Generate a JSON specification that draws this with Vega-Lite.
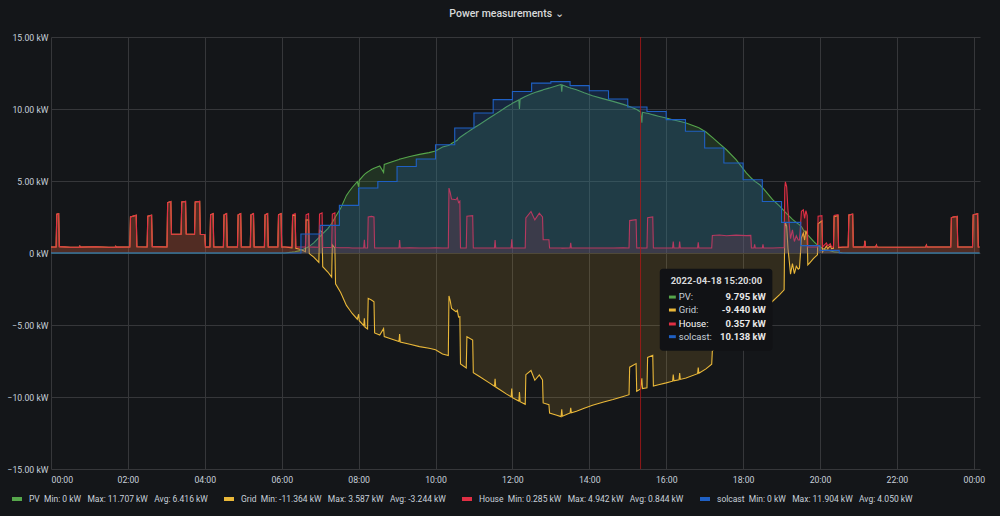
{
  "$schema": "https://vega.github.io/schema/vega-lite/v6.json",
  "width": 929,
  "height": 432,
  "autosize": {"type": "none"},
  "padding": {"left": 51, "top": 37, "right": 20, "bottom": 47},
  "background": "#141619",
  "title": {"text": "Power measurements ⌄", "font": "Roboto", "fontSize": 10.5, "fontWeight": 500, "color": "#d8d9da", "anchor": "middle", "offset": 14, "dx": -9},
  "datasets": {
    "power": [
      {"t": "2022-04-18T00:00", "PV": 0, "Grid": 0.42, "House": 0.42},
      {"t": "2022-04-18T00:08", "PV": 0, "Grid": 0.42, "House": 0.42},
      {"t": "2022-04-18T00:09", "PV": 0, "Grid": 2.70, "House": 2.70},
      {"t": "2022-04-18T00:12", "PV": 0, "Grid": 2.73, "House": 2.73},
      {"t": "2022-04-18T00:13", "PV": 0, "Grid": 0.44, "House": 0.44},
      {"t": "2022-04-18T00:30", "PV": 0, "Grid": 0.40, "House": 0.40},
      {"t": "2022-04-18T00:44", "PV": 0, "Grid": 0.40, "House": 0.40},
      {"t": "2022-04-18T00:45", "PV": 0, "Grid": 0.48, "House": 0.48},
      {"t": "2022-04-18T00:46", "PV": 0, "Grid": 0.41, "House": 0.41},
      {"t": "2022-04-18T01:10", "PV": 0, "Grid": 0.43, "House": 0.43},
      {"t": "2022-04-18T01:30", "PV": 0, "Grid": 0.40, "House": 0.40},
      {"t": "2022-04-18T01:40", "PV": 0, "Grid": 0.40, "House": 0.40},
      {"t": "2022-04-18T01:41", "PV": 0, "Grid": 0.47, "House": 0.47},
      {"t": "2022-04-18T01:42", "PV": 0, "Grid": 0.41, "House": 0.41},
      {"t": "2022-04-18T02:03", "PV": 0, "Grid": 0.42, "House": 0.42},
      {"t": "2022-04-18T02:04", "PV": 0, "Grid": 2.50, "House": 2.50},
      {"t": "2022-04-18T02:13", "PV": 0, "Grid": 2.62, "House": 2.62},
      {"t": "2022-04-18T02:14", "PV": 0, "Grid": 0.43, "House": 0.43},
      {"t": "2022-04-18T02:30", "PV": 0, "Grid": 0.42, "House": 0.42},
      {"t": "2022-04-18T02:31", "PV": 0, "Grid": 2.55, "House": 2.55},
      {"t": "2022-04-18T02:37", "PV": 0, "Grid": 2.62, "House": 2.62},
      {"t": "2022-04-18T02:38", "PV": 0, "Grid": 0.44, "House": 0.44},
      {"t": "2022-04-18T03:01", "PV": 0, "Grid": 0.42, "House": 0.42},
      {"t": "2022-04-18T03:02", "PV": 0, "Grid": 3.50, "House": 3.50},
      {"t": "2022-04-18T03:07", "PV": 0, "Grid": 3.58, "House": 3.58},
      {"t": "2022-04-18T03:08", "PV": 0, "Grid": 1.30, "House": 1.30},
      {"t": "2022-04-18T03:23", "PV": 0, "Grid": 1.30, "House": 1.30},
      {"t": "2022-04-18T03:24", "PV": 0, "Grid": 3.55, "House": 3.55},
      {"t": "2022-04-18T03:30", "PV": 0, "Grid": 3.58, "House": 3.58},
      {"t": "2022-04-18T03:31", "PV": 0, "Grid": 1.32, "House": 1.32},
      {"t": "2022-04-18T03:44", "PV": 0, "Grid": 1.30, "House": 1.30},
      {"t": "2022-04-18T03:45", "PV": 0, "Grid": 3.55, "House": 3.55},
      {"t": "2022-04-18T03:52", "PV": 0, "Grid": 3.58, "House": 3.58},
      {"t": "2022-04-18T03:53", "PV": 0, "Grid": 1.30, "House": 1.30},
      {"t": "2022-04-18T04:00", "PV": 0, "Grid": 1.28, "House": 1.28},
      {"t": "2022-04-18T04:01", "PV": 0, "Grid": 0.42, "House": 0.42},
      {"t": "2022-04-18T04:08", "PV": 0, "Grid": 0.42, "House": 0.42},
      {"t": "2022-04-18T04:09", "PV": 0, "Grid": 2.65, "House": 2.65},
      {"t": "2022-04-18T04:13", "PV": 0, "Grid": 2.73, "House": 2.73},
      {"t": "2022-04-18T04:14", "PV": 0, "Grid": 0.42, "House": 0.42},
      {"t": "2022-04-18T04:29", "PV": 0, "Grid": 0.42, "House": 0.42},
      {"t": "2022-04-18T04:30", "PV": 0, "Grid": 2.65, "House": 2.65},
      {"t": "2022-04-18T04:34", "PV": 0, "Grid": 2.73, "House": 2.73},
      {"t": "2022-04-18T04:35", "PV": 0, "Grid": 0.42, "House": 0.42},
      {"t": "2022-04-18T04:51", "PV": 0, "Grid": 0.42, "House": 0.42},
      {"t": "2022-04-18T04:52", "PV": 0, "Grid": 2.65, "House": 2.65},
      {"t": "2022-04-18T04:56", "PV": 0, "Grid": 2.73, "House": 2.73},
      {"t": "2022-04-18T04:57", "PV": 0, "Grid": 0.42, "House": 0.42},
      {"t": "2022-04-18T05:11", "PV": 0, "Grid": 0.42, "House": 0.42},
      {"t": "2022-04-18T05:12", "PV": 0, "Grid": 2.65, "House": 2.65},
      {"t": "2022-04-18T05:16", "PV": 0, "Grid": 2.73, "House": 2.73},
      {"t": "2022-04-18T05:17", "PV": 0, "Grid": 0.42, "House": 0.42},
      {"t": "2022-04-18T05:33", "PV": 0, "Grid": 0.42, "House": 0.42},
      {"t": "2022-04-18T05:34", "PV": 0, "Grid": 2.65, "House": 2.65},
      {"t": "2022-04-18T05:38", "PV": 0, "Grid": 2.73, "House": 2.73},
      {"t": "2022-04-18T05:39", "PV": 0, "Grid": 0.42, "House": 0.42},
      {"t": "2022-04-18T05:54", "PV": 0, "Grid": 0.42, "House": 0.42},
      {"t": "2022-04-18T05:55", "PV": 0, "Grid": 2.65, "House": 2.65},
      {"t": "2022-04-18T05:59", "PV": 0, "Grid": 2.73, "House": 2.73},
      {"t": "2022-04-18T06:00", "PV": 0, "Grid": 0.42, "House": 0.42},
      {"t": "2022-04-18T06:05", "PV": 0, "Grid": 0.42, "House": 0.42},
      {"t": "2022-04-18T06:16", "PV": 0.06, "Grid": 0.36, "House": 0.42},
      {"t": "2022-04-18T06:17", "PV": 0.07, "Grid": 2.58, "House": 2.65},
      {"t": "2022-04-18T06:21", "PV": 0.09, "Grid": 2.64, "House": 2.73},
      {"t": "2022-04-18T06:22", "PV": 0.10, "Grid": 0.32, "House": 0.42},
      {"t": "2022-04-18T06:30", "PV": 0.18, "Grid": 0.24, "House": 0.42},
      {"t": "2022-04-18T06:37", "PV": 0.33, "Grid": 0.09, "House": 0.42},
      {"t": "2022-04-18T06:38", "PV": 0.35, "Grid": 2.30, "House": 2.65},
      {"t": "2022-04-18T06:42", "PV": 0.44, "Grid": 2.29, "House": 2.73},
      {"t": "2022-04-18T06:43", "PV": 0.46, "Grid": -0.04, "House": 0.42},
      {"t": "2022-04-18T06:50", "PV": 0.70, "Grid": -0.29, "House": 0.41},
      {"t": "2022-04-18T06:58", "PV": 1.06, "Grid": -0.66, "House": 0.40},
      {"t": "2022-04-18T06:59", "PV": 1.11, "Grid": 1.59, "House": 2.70},
      {"t": "2022-04-18T07:03", "PV": 1.30, "Grid": 1.48, "House": 2.78},
      {"t": "2022-04-18T07:04", "PV": 1.35, "Grid": -0.95, "House": 0.40},
      {"t": "2022-04-18T07:12", "PV": 1.70, "Grid": -1.32, "House": 0.38},
      {"t": "2022-04-18T07:18", "PV": 2.05, "Grid": -1.67, "House": 0.38},
      {"t": "2022-04-18T07:19", "PV": 2.13, "Grid": 0.57, "House": 2.70},
      {"t": "2022-04-18T07:23", "PV": 2.44, "Grid": 0.34, "House": 2.78},
      {"t": "2022-04-18T07:24", "PV": 2.52, "Grid": -2.14, "House": 0.38},
      {"t": "2022-04-18T07:32", "PV": 3.10, "Grid": -2.74, "House": 0.36},
      {"t": "2022-04-18T07:41", "PV": 4.00, "Grid": -3.64, "House": 0.36},
      {"t": "2022-04-18T07:45", "PV": 4.25, "Grid": -3.89, "House": 0.36},
      {"t": "2022-04-18T07:50", "PV": 4.55, "Grid": -4.20, "House": 0.35},
      {"t": "2022-04-18T07:58", "PV": 4.95, "Grid": -4.60, "House": 0.35},
      {"t": "2022-04-18T08:00", "PV": 4.60, "Grid": -4.25, "House": 0.35},
      {"t": "2022-04-18T08:01", "PV": 5.05, "Grid": -4.70, "House": 0.35},
      {"t": "2022-04-18T08:08", "PV": 5.40, "Grid": -5.05, "House": 0.35},
      {"t": "2022-04-18T08:09", "PV": 5.45, "Grid": -4.53, "House": 0.92},
      {"t": "2022-04-18T08:10", "PV": 5.50, "Grid": -5.15, "House": 0.35},
      {"t": "2022-04-18T08:14", "PV": 5.62, "Grid": -5.27, "House": 0.35},
      {"t": "2022-04-18T08:15", "PV": 5.65, "Grid": -3.15, "House": 2.50},
      {"t": "2022-04-18T08:20", "PV": 5.80, "Grid": -3.26, "House": 2.54},
      {"t": "2022-04-18T08:24", "PV": 5.88, "Grid": -3.38, "House": 2.50},
      {"t": "2022-04-18T08:25", "PV": 5.90, "Grid": -5.55, "House": 0.35},
      {"t": "2022-04-18T08:33", "PV": 6.05, "Grid": -5.70, "House": 0.35},
      {"t": "2022-04-18T08:39", "PV": 5.60, "Grid": -5.25, "House": 0.35},
      {"t": "2022-04-18T08:40", "PV": 6.15, "Grid": -5.80, "House": 0.35},
      {"t": "2022-04-18T08:50", "PV": 6.30, "Grid": -5.95, "House": 0.35},
      {"t": "2022-04-18T09:03", "PV": 6.50, "Grid": -6.15, "House": 0.35},
      {"t": "2022-04-18T09:04", "PV": 6.52, "Grid": -5.62, "House": 0.90},
      {"t": "2022-04-18T09:05", "PV": 6.53, "Grid": -6.18, "House": 0.35},
      {"t": "2022-04-18T09:20", "PV": 6.70, "Grid": -6.34, "House": 0.36},
      {"t": "2022-04-18T09:35", "PV": 6.85, "Grid": -6.50, "House": 0.35},
      {"t": "2022-04-18T09:50", "PV": 6.97, "Grid": -6.62, "House": 0.35},
      {"t": "2022-04-18T10:00", "PV": 7.08, "Grid": -6.72, "House": 0.36},
      {"t": "2022-04-18T10:11", "PV": 7.36, "Grid": -7.01, "House": 0.35},
      {"t": "2022-04-18T10:20", "PV": 7.47, "Grid": -7.12, "House": 0.35},
      {"t": "2022-04-18T10:21", "PV": 7.49, "Grid": -2.98, "House": 4.51},
      {"t": "2022-04-18T10:23", "PV": 7.53, "Grid": -3.33, "House": 4.20},
      {"t": "2022-04-18T10:25", "PV": 7.60, "Grid": -3.85, "House": 3.75},
      {"t": "2022-04-18T10:32", "PV": 7.78, "Grid": -4.08, "House": 3.70},
      {"t": "2022-04-18T10:34", "PV": 7.83, "Grid": -3.98, "House": 3.85},
      {"t": "2022-04-18T10:36", "PV": 7.95, "Grid": -4.45, "House": 3.50},
      {"t": "2022-04-18T10:38", "PV": 8.02, "Grid": -4.42, "House": 3.60},
      {"t": "2022-04-18T10:39", "PV": 8.05, "Grid": -7.70, "House": 0.35},
      {"t": "2022-04-18T10:48", "PV": 8.33, "Grid": -7.98, "House": 0.35},
      {"t": "2022-04-18T10:49", "PV": 8.36, "Grid": -5.81, "House": 2.55},
      {"t": "2022-04-18T10:58", "PV": 8.63, "Grid": -6.04, "House": 2.59},
      {"t": "2022-04-18T10:59", "PV": 8.66, "Grid": -8.31, "House": 0.35},
      {"t": "2022-04-18T11:08", "PV": 8.91, "Grid": -8.56, "House": 0.35},
      {"t": "2022-04-18T11:24", "PV": 9.37, "Grid": -9.02, "House": 0.35},
      {"t": "2022-04-18T11:32", "PV": 9.60, "Grid": -9.25, "House": 0.35},
      {"t": "2022-04-18T11:33", "PV": 9.63, "Grid": -8.73, "House": 0.90},
      {"t": "2022-04-18T11:34", "PV": 9.66, "Grid": -9.31, "House": 0.35},
      {"t": "2022-04-18T11:40", "PV": 9.83, "Grid": -9.48, "House": 0.35},
      {"t": "2022-04-18T11:51", "PV": 10.15, "Grid": -9.80, "House": 0.35},
      {"t": "2022-04-18T11:58", "PV": 10.34, "Grid": -9.99, "House": 0.35},
      {"t": "2022-04-18T11:59", "PV": 10.37, "Grid": -9.42, "House": 0.95},
      {"t": "2022-04-18T12:00", "PV": 10.40, "Grid": -10.05, "House": 0.35},
      {"t": "2022-04-18T12:10", "PV": 10.63, "Grid": -10.28, "House": 0.35},
      {"t": "2022-04-18T12:11", "PV": 10.00, "Grid": -9.65, "House": 0.35},
      {"t": "2022-04-18T12:12", "PV": 10.68, "Grid": -10.33, "House": 0.35},
      {"t": "2022-04-18T12:20", "PV": 10.86, "Grid": -10.51, "House": 0.35},
      {"t": "2022-04-18T12:21", "PV": 10.88, "Grid": -8.45, "House": 2.43},
      {"t": "2022-04-18T12:29", "PV": 11.04, "Grid": -8.16, "House": 2.88},
      {"t": "2022-04-18T12:35", "PV": 11.14, "Grid": -8.84, "House": 2.30},
      {"t": "2022-04-18T12:42", "PV": 11.24, "Grid": -8.47, "House": 2.77},
      {"t": "2022-04-18T12:47", "PV": 11.31, "Grid": -8.81, "House": 2.50},
      {"t": "2022-04-18T12:48", "PV": 11.33, "Grid": -10.41, "House": 0.92},
      {"t": "2022-04-18T12:57", "PV": 11.45, "Grid": -10.53, "House": 0.92},
      {"t": "2022-04-18T12:58", "PV": 11.46, "Grid": -11.11, "House": 0.35},
      {"t": "2022-04-18T13:08", "PV": 11.60, "Grid": -11.25, "House": 0.35},
      {"t": "2022-04-18T13:16", "PV": 11.707, "Grid": -11.364, "House": 0.343},
      {"t": "2022-04-18T13:17", "PV": 11.20, "Grid": -10.86, "House": 0.34},
      {"t": "2022-04-18T13:18", "PV": 11.67, "Grid": -11.33, "House": 0.34},
      {"t": "2022-04-18T13:28", "PV": 11.50, "Grid": -11.15, "House": 0.35},
      {"t": "2022-04-18T13:30", "PV": 11.47, "Grid": -11.12, "House": 0.35},
      {"t": "2022-04-18T13:31", "PV": 11.45, "Grid": -10.75, "House": 0.70},
      {"t": "2022-04-18T13:32", "PV": 11.44, "Grid": -11.09, "House": 0.35},
      {"t": "2022-04-18T13:40", "PV": 11.34, "Grid": -10.99, "House": 0.35},
      {"t": "2022-04-18T13:52", "PV": 11.13, "Grid": -10.78, "House": 0.35},
      {"t": "2022-04-18T14:05", "PV": 10.92, "Grid": -10.57, "House": 0.35},
      {"t": "2022-04-18T14:21", "PV": 10.72, "Grid": -10.37, "House": 0.35},
      {"t": "2022-04-18T14:37", "PV": 10.53, "Grid": -10.18, "House": 0.35},
      {"t": "2022-04-18T14:53", "PV": 10.32, "Grid": -9.96, "House": 0.36},
      {"t": "2022-04-18T15:02", "PV": 10.19, "Grid": -9.84, "House": 0.35},
      {"t": "2022-04-18T15:03", "PV": 10.18, "Grid": -7.93, "House": 2.25},
      {"t": "2022-04-18T15:13", "PV": 9.99, "Grid": -7.68, "House": 2.31},
      {"t": "2022-04-18T15:14", "PV": 9.96, "Grid": -9.61, "House": 0.35},
      {"t": "2022-04-18T15:20", "PV": 9.795, "Grid": -9.44, "House": 0.357},
      {"t": "2022-04-18T15:22", "PV": 9.05, "Grid": -8.70, "House": 0.35},
      {"t": "2022-04-18T15:23", "PV": 9.77, "Grid": -9.42, "House": 0.35},
      {"t": "2022-04-18T15:30", "PV": 9.71, "Grid": -9.36, "House": 0.35},
      {"t": "2022-04-18T15:31", "PV": 9.70, "Grid": -7.25, "House": 2.45},
      {"t": "2022-04-18T15:39", "PV": 9.60, "Grid": -7.10, "House": 2.50},
      {"t": "2022-04-18T15:40", "PV": 9.59, "Grid": -9.24, "House": 0.35},
      {"t": "2022-04-18T15:48", "PV": 9.50, "Grid": -9.15, "House": 0.35},
      {"t": "2022-04-18T16:00", "PV": 9.37, "Grid": -9.02, "House": 0.35},
      {"t": "2022-04-18T16:10", "PV": 9.25, "Grid": -8.90, "House": 0.35},
      {"t": "2022-04-18T16:11", "PV": 9.24, "Grid": -8.44, "House": 0.80},
      {"t": "2022-04-18T16:12", "PV": 9.23, "Grid": -8.88, "House": 0.35},
      {"t": "2022-04-18T16:20", "PV": 9.15, "Grid": -8.80, "House": 0.35},
      {"t": "2022-04-18T16:21", "PV": 9.14, "Grid": -8.34, "House": 0.80},
      {"t": "2022-04-18T16:22", "PV": 9.13, "Grid": -8.78, "House": 0.35},
      {"t": "2022-04-18T16:31", "PV": 9.03, "Grid": -8.68, "House": 0.35},
      {"t": "2022-04-18T16:49", "PV": 8.73, "Grid": -8.38, "House": 0.35},
      {"t": "2022-04-18T16:50", "PV": 8.71, "Grid": -7.96, "House": 0.75},
      {"t": "2022-04-18T16:51", "PV": 8.70, "Grid": -8.35, "House": 0.35},
      {"t": "2022-04-18T17:02", "PV": 8.40, "Grid": -8.05, "House": 0.35},
      {"t": "2022-04-18T17:11", "PV": 8.07, "Grid": -7.72, "House": 0.35},
      {"t": "2022-04-18T17:12", "PV": 8.03, "Grid": -6.81, "House": 1.22},
      {"t": "2022-04-18T17:23", "PV": 7.60, "Grid": -6.35, "House": 1.25},
      {"t": "2022-04-18T17:34", "PV": 7.17, "Grid": -5.97, "House": 1.20},
      {"t": "2022-04-18T17:49", "PV": 6.48, "Grid": -5.24, "House": 1.24},
      {"t": "2022-04-18T18:05", "PV": 5.56, "Grid": -4.35, "House": 1.21},
      {"t": "2022-04-18T18:12", "PV": 5.24, "Grid": -4.02, "House": 1.22},
      {"t": "2022-04-18T18:13", "PV": 5.19, "Grid": -4.84, "House": 0.35},
      {"t": "2022-04-18T18:17", "PV": 5.03, "Grid": -4.68, "House": 0.35},
      {"t": "2022-04-18T18:18", "PV": 5.00, "Grid": -4.40, "House": 0.60},
      {"t": "2022-04-18T18:19", "PV": 4.96, "Grid": -4.61, "House": 0.35},
      {"t": "2022-04-18T18:26", "PV": 4.74, "Grid": -4.39, "House": 0.35},
      {"t": "2022-04-18T18:30", "PV": 4.54, "Grid": -4.19, "House": 0.35},
      {"t": "2022-04-18T18:31", "PV": 4.50, "Grid": -3.90, "House": 0.60},
      {"t": "2022-04-18T18:32", "PV": 4.45, "Grid": -4.10, "House": 0.35},
      {"t": "2022-04-18T18:36", "PV": 4.25, "Grid": -3.90, "House": 0.35},
      {"t": "2022-04-18T18:46", "PV": 3.70, "Grid": -3.35, "House": 0.35},
      {"t": "2022-04-18T18:57", "PV": 3.25, "Grid": -2.89, "House": 0.36},
      {"t": "2022-04-18T19:04", "PV": 2.92, "Grid": -2.56, "House": 0.36},
      {"t": "2022-04-18T19:05", "PV": 2.87, "Grid": 1.63, "House": 4.50},
      {"t": "2022-04-18T19:06", "PV": 2.83, "Grid": 2.11, "House": 4.942},
      {"t": "2022-04-18T19:08", "PV": 2.74, "Grid": 1.86, "House": 4.60},
      {"t": "2022-04-18T19:10", "PV": 2.65, "Grid": 0.35, "House": 3.00},
      {"t": "2022-04-18T19:12", "PV": 2.56, "Grid": -0.56, "House": 2.00},
      {"t": "2022-04-18T19:14", "PV": 2.47, "Grid": -1.47, "House": 1.00},
      {"t": "2022-04-18T19:17", "PV": 2.34, "Grid": -0.74, "House": 1.60},
      {"t": "2022-04-18T19:20", "PV": 2.23, "Grid": -1.43, "House": 0.80},
      {"t": "2022-04-18T19:23", "PV": 2.12, "Grid": -0.92, "House": 1.20},
      {"t": "2022-04-18T19:26", "PV": 2.02, "Grid": -1.12, "House": 0.90},
      {"t": "2022-04-18T19:28", "PV": 1.95, "Grid": -1.05, "House": 0.90},
      {"t": "2022-04-18T19:31", "PV": 1.84, "Grid": 1.06, "House": 2.90},
      {"t": "2022-04-18T19:34", "PV": 1.61, "Grid": 1.39, "House": 3.00},
      {"t": "2022-04-18T19:36", "PV": 1.50, "Grid": 0.90, "House": 2.40},
      {"t": "2022-04-18T19:38", "PV": 1.40, "Grid": 1.55, "House": 2.95},
      {"t": "2022-04-18T19:40", "PV": 1.30, "Grid": 1.30, "House": 2.60},
      {"t": "2022-04-18T19:41", "PV": 1.25, "Grid": -0.83, "House": 0.42},
      {"t": "2022-04-18T19:44", "PV": 1.10, "Grid": -0.68, "House": 0.42},
      {"t": "2022-04-18T19:50", "PV": 0.80, "Grid": -0.38, "House": 0.42},
      {"t": "2022-04-18T19:56", "PV": 0.55, "Grid": -0.13, "House": 0.42},
      {"t": "2022-04-18T19:57", "PV": 0.52, "Grid": 2.03, "House": 2.55},
      {"t": "2022-04-18T20:03", "PV": 0.35, "Grid": 2.24, "House": 2.59},
      {"t": "2022-04-18T20:04", "PV": 0.33, "Grid": 0.09, "House": 0.42},
      {"t": "2022-04-18T20:10", "PV": 0.22, "Grid": 0.48, "House": 0.70},
      {"t": "2022-04-18T20:12", "PV": 0.20, "Grid": 0.30, "House": 0.50},
      {"t": "2022-04-18T20:16", "PV": 0.15, "Grid": 0.50, "House": 0.65},
      {"t": "2022-04-18T20:18", "PV": 0.12, "Grid": 0.30, "House": 0.42},
      {"t": "2022-04-18T20:21", "PV": 0.09, "Grid": 0.33, "House": 0.42},
      {"t": "2022-04-18T20:22", "PV": 0.08, "Grid": 2.52, "House": 2.60},
      {"t": "2022-04-18T20:28", "PV": 0.05, "Grid": 2.61, "House": 2.66},
      {"t": "2022-04-18T20:29", "PV": 0.05, "Grid": 0.37, "House": 0.42},
      {"t": "2022-04-18T20:35", "PV": 0.02, "Grid": 0.40, "House": 0.42},
      {"t": "2022-04-18T20:44", "PV": 0, "Grid": 0.42, "House": 0.42},
      {"t": "2022-04-18T20:45", "PV": 0, "Grid": 2.65, "House": 2.65},
      {"t": "2022-04-18T20:51", "PV": 0, "Grid": 2.70, "House": 2.70},
      {"t": "2022-04-18T20:52", "PV": 0, "Grid": 0.42, "House": 0.42},
      {"t": "2022-04-18T21:09", "PV": 0, "Grid": 0.42, "House": 0.42},
      {"t": "2022-04-18T21:10", "PV": 0, "Grid": 0.85, "House": 0.85},
      {"t": "2022-04-18T21:11", "PV": 0, "Grid": 0.42, "House": 0.42},
      {"t": "2022-04-18T21:27", "PV": 0, "Grid": 0.42, "House": 0.42},
      {"t": "2022-04-18T21:28", "PV": 0, "Grid": 0.55, "House": 0.55},
      {"t": "2022-04-18T21:29", "PV": 0, "Grid": 0.42, "House": 0.42},
      {"t": "2022-04-18T22:00", "PV": 0, "Grid": 0.40, "House": 0.40},
      {"t": "2022-04-18T22:45", "PV": 0, "Grid": 0.42, "House": 0.42},
      {"t": "2022-04-18T22:46", "PV": 0, "Grid": 0.55, "House": 0.55},
      {"t": "2022-04-18T22:47", "PV": 0, "Grid": 0.42, "House": 0.42},
      {"t": "2022-04-18T23:24", "PV": 0, "Grid": 0.42, "House": 0.42},
      {"t": "2022-04-18T23:25", "PV": 0, "Grid": 2.45, "House": 2.45},
      {"t": "2022-04-18T23:28", "PV": 0, "Grid": 2.50, "House": 2.50},
      {"t": "2022-04-18T23:34", "PV": 0, "Grid": 2.54, "House": 2.54},
      {"t": "2022-04-18T23:35", "PV": 0, "Grid": 0.42, "House": 0.42},
      {"t": "2022-04-18T23:58", "PV": 0, "Grid": 0.42, "House": 0.42},
      {"t": "2022-04-18T23:59", "PV": 0, "Grid": 2.65, "House": 2.65},
      {"t": "2022-04-19T00:06", "PV": 0, "Grid": 2.73, "House": 2.73},
      {"t": "2022-04-19T00:07", "PV": 0, "Grid": 0.42, "House": 0.42},
      {"t": "2022-04-19T00:09", "PV": 0, "Grid": 0.42, "House": 0.42}
    ],
    "solcast": [
      {"t": "2022-04-18T00:00", "solcast": 0},
      {"t": "2022-04-18T06:30", "solcast": 1.32},
      {"t": "2022-04-18T07:00", "solcast": 1.92},
      {"t": "2022-04-18T07:30", "solcast": 3.31},
      {"t": "2022-04-18T08:00", "solcast": 4.51},
      {"t": "2022-04-18T08:30", "solcast": 4.97},
      {"t": "2022-04-18T09:00", "solcast": 6.01},
      {"t": "2022-04-18T09:30", "solcast": 6.53},
      {"t": "2022-04-18T10:00", "solcast": 7.52},
      {"t": "2022-04-18T10:30", "solcast": 8.68},
      {"t": "2022-04-18T11:00", "solcast": 9.72},
      {"t": "2022-04-18T11:30", "solcast": 10.65},
      {"t": "2022-04-18T12:00", "solcast": 11.22},
      {"t": "2022-04-18T12:30", "solcast": 11.80},
      {"t": "2022-04-18T13:00", "solcast": 11.904},
      {"t": "2022-04-18T13:30", "solcast": 11.62},
      {"t": "2022-04-18T14:00", "solcast": 11.27},
      {"t": "2022-04-18T14:30", "solcast": 10.69},
      {"t": "2022-04-18T15:00", "solcast": 10.138},
      {"t": "2022-04-18T15:30", "solcast": 9.83},
      {"t": "2022-04-18T16:00", "solcast": 9.26},
      {"t": "2022-04-18T16:30", "solcast": 8.45},
      {"t": "2022-04-18T17:00", "solcast": 7.29},
      {"t": "2022-04-18T17:30", "solcast": 6.25},
      {"t": "2022-04-18T18:00", "solcast": 5.09},
      {"t": "2022-04-18T18:30", "solcast": 3.58},
      {"t": "2022-04-18T19:00", "solcast": 2.13},
      {"t": "2022-04-18T19:30", "solcast": 0.51},
      {"t": "2022-04-18T20:00", "solcast": 0.18},
      {"t": "2022-04-18T20:30", "solcast": 0},
      {"t": "2022-04-19T00:09", "solcast": 0}
    ],
    "cursor": [{"t": "2022-04-18T15:20"}],
    "tipbox": [{"t": "2022-04-18T15:50", "t2": "2022-04-18T18:45:36", "kw": -1.09, "kw2": -6.78}],
    "tiphead": [{"t": "2022-04-18T17:18:18", "kw": -1.96, "txt": "2022-04-18 15:20:00"}],
    "tiprows": [
      {"t": "2022-04-18T16:04:18", "t2": "2022-04-18T16:15", "tl": "2022-04-18T16:19:36", "tv": "2022-04-18T18:35:30", "kw": -3.06, "s": "PV", "name": "PV:", "val": "9.795 kW"},
      {"t": "2022-04-18T16:04:18", "t2": "2022-04-18T16:15", "tl": "2022-04-18T16:19:36", "tv": "2022-04-18T18:35:30", "kw": -3.96, "s": "Grid", "name": "Grid:", "val": "-9.440 kW"},
      {"t": "2022-04-18T16:04:18", "t2": "2022-04-18T16:15", "tl": "2022-04-18T16:19:36", "tv": "2022-04-18T18:35:30", "kw": -4.93, "s": "House", "name": "House:", "val": "0.357 kW"},
      {"t": "2022-04-18T16:04:18", "t2": "2022-04-18T16:15", "tl": "2022-04-18T16:19:36", "tv": "2022-04-18T18:35:30", "kw": -5.81, "s": "solcast", "name": "solcast:", "val": "10.138 kW"}
    ]
  },
  "layer": [
    {
      "data": {"name": "power"},
      "mark": {"type": "area", "color": "#56A64B", "opacity": 0.2},
      "encoding": {
        "x": {
          "field": "t", "type": "temporal", "title": null,
          "scale": {"domain": [{"year": 2022, "month": 4, "date": 18, "hours": 0, "minutes": 0}, {"year": 2022, "month": 4, "date": 19, "hours": 0, "minutes": 9, "seconds": 40}]},
          "axis": {"format": "%H:%M", "values": [
            {"year": 2022, "month": 4, "date": 18, "hours": 0},
            {"year": 2022, "month": 4, "date": 18, "hours": 2},
            {"year": 2022, "month": 4, "date": 18, "hours": 4},
            {"year": 2022, "month": 4, "date": 18, "hours": 6},
            {"year": 2022, "month": 4, "date": 18, "hours": 8},
            {"year": 2022, "month": 4, "date": 18, "hours": 10},
            {"year": 2022, "month": 4, "date": 18, "hours": 12},
            {"year": 2022, "month": 4, "date": 18, "hours": 14},
            {"year": 2022, "month": 4, "date": 18, "hours": 16},
            {"year": 2022, "month": 4, "date": 18, "hours": 18},
            {"year": 2022, "month": 4, "date": 18, "hours": 20},
            {"year": 2022, "month": 4, "date": 18, "hours": 22},
            {"year": 2022, "month": 4, "date": 19, "hours": 0}
          ], "labelPadding": 6, "grid": true, "title": null}
        },
        "y": {"field": "PV", "type": "quantitative", "title": null, "scale": {"domain": [-15, 15], "nice": false},
          "axis": {"values": [-15, -10, -5, 0, 5, 10, 15], "labelExpr": "datum.value == 0 ? '0 kW' : format(datum.value, '.2f') + ' kW'", "labelPadding": 3, "grid": true, "title": null}}
      }
    },
    {
      "data": {"name": "power"},
      "mark": {"type": "line", "strokeWidth": 1.1},
      "encoding": {
        "x": {"field": "t", "type": "temporal"},
        "y": {"field": "PV", "type": "quantitative"},
        "color": {"datum": "PV", "type": "nominal",
          "scale": {"domain": ["PV", "Grid", "House", "solcast"], "range": ["#56A64B", "#EAB839", "#E02F44", "#1F60C4"]},
          "legend": {"orient": "none", "legendX": -41, "legendY": 455, "direction": "horizontal", "title": null, "symbolType": "stroke", "symbolStrokeWidth": 4, "symbolSize": 100, "labelFont": "Roboto", "labelFontSize": 8.5, "labelColor": "#c7d0d9", "labelOffset": 5, "columnPadding": 8, "labelLimit": 0,
            "labelExpr": "datum.label == 'PV' ? 'PV\u00a0 Min: 0 kW\u00a0\u00a0 Max: 11.707 kW\u00a0\u00a0 Avg: 6.416 kW' : datum.label == 'Grid' ? 'Grid\u00a0 Min: -11.364 kW\u00a0\u00a0 Max: 3.587 kW\u00a0\u00a0 Avg: -3.244 kW' : datum.label == 'House' ? 'House\u00a0 Min: 0.285 kW\u00a0\u00a0 Max: 4.942 kW\u00a0\u00a0 Avg: 0.844 kW' : 'solcast\u00a0 Min: 0 kW\u00a0\u00a0 Max: 11.904 kW\u00a0\u00a0 Avg: 4.050 kW'"}
        }
      }
    },
    {
      "data": {"name": "power"},
      "mark": {"type": "area", "color": "#EAB839", "opacity": 0.14},
      "encoding": {"x": {"field": "t", "type": "temporal"}, "y": {"field": "Grid", "type": "quantitative"}}
    },
    {
      "data": {"name": "power"},
      "mark": {"type": "line", "strokeWidth": 1.1},
      "encoding": {"x": {"field": "t", "type": "temporal"}, "y": {"field": "Grid", "type": "quantitative"}, "color": {"datum": "Grid", "type": "nominal"}}
    },
    {
      "data": {"name": "power"},
      "mark": {"type": "area", "color": "#E02F44", "opacity": 0.18},
      "encoding": {"x": {"field": "t", "type": "temporal"}, "y": {"field": "House", "type": "quantitative"}}
    },
    {
      "data": {"name": "power"},
      "mark": {"type": "line", "strokeWidth": 1.1},
      "encoding": {"x": {"field": "t", "type": "temporal"}, "y": {"field": "House", "type": "quantitative"}, "color": {"datum": "House", "type": "nominal"}}
    },
    {
      "data": {"name": "solcast"},
      "mark": {"type": "area", "interpolate": "step-after", "color": "#1F60C4", "opacity": 0.22},
      "encoding": {"x": {"field": "t", "type": "temporal"}, "y": {"field": "solcast", "type": "quantitative"}}
    },
    {
      "data": {"name": "solcast"},
      "mark": {"type": "line", "interpolate": "step-after", "strokeWidth": 1.1},
      "encoding": {"x": {"field": "t", "type": "temporal"}, "y": {"field": "solcast", "type": "quantitative"}, "color": {"datum": "solcast", "type": "nominal"}}
    },
    {
      "data": {"name": "cursor"},
      "mark": {"type": "rule", "color": "#b01818", "strokeWidth": 1, "opacity": 0.8},
      "encoding": {"x": {"field": "t", "type": "temporal"}}
    },
    {
      "data": {"name": "tipbox"},
      "mark": {"type": "rect", "color": "#111215", "opacity": 1, "cornerRadius": 3},
      "encoding": {"x": {"field": "t", "type": "temporal"}, "x2": {"field": "t2"}, "y": {"field": "kw", "type": "quantitative"}, "y2": {"field": "kw2"}}
    },
    {
      "data": {"name": "tiphead"},
      "mark": {"type": "text", "font": "Roboto", "fontSize": 9.5, "fontWeight": "bold", "color": "#d8d9da", "align": "center", "baseline": "middle"},
      "encoding": {"x": {"field": "t", "type": "temporal"}, "y": {"field": "kw", "type": "quantitative"}, "text": {"field": "txt"}}
    },
    {
      "data": {"name": "tiprows"},
      "mark": {"type": "rule", "strokeWidth": 3},
      "encoding": {"x": {"field": "t", "type": "temporal"}, "x2": {"field": "t2"}, "y": {"field": "kw", "type": "quantitative"}, "color": {"field": "s", "type": "nominal", "legend": null}}
    },
    {
      "data": {"name": "tiprows"},
      "mark": {"type": "text", "font": "Roboto", "fontSize": 9.5, "align": "left", "baseline": "middle"},
      "encoding": {
        "x": {"field": "tl", "type": "temporal"}, "y": {"field": "kw", "type": "quantitative"}, "text": {"field": "name"},
        "fontWeight": {"condition": {"test": "datum.s == 'House'", "value": "bold"}, "value": "normal"},
        "color": {"condition": {"test": "datum.s == 'House'", "value": "#ffffff"}, "value": "#c7d0d9"}
      }
    },
    {
      "data": {"name": "tiprows"},
      "mark": {"type": "text", "font": "Roboto", "fontSize": 9.5, "fontWeight": "bold", "color": "#e8e8e8", "align": "right", "baseline": "middle"},
      "encoding": {"x": {"field": "tv", "type": "temporal"}, "y": {"field": "kw", "type": "quantitative"}, "text": {"field": "val"}}
    }
  ],
  "config": {
    "view": {"stroke": null},
    "axis": {"domain": false, "ticks": false, "gridColor": "#36373a", "gridWidth": 1, "labelColor": "#c7d0d9", "labelFont": "Roboto", "labelFontSize": 8.7}
  }
}
